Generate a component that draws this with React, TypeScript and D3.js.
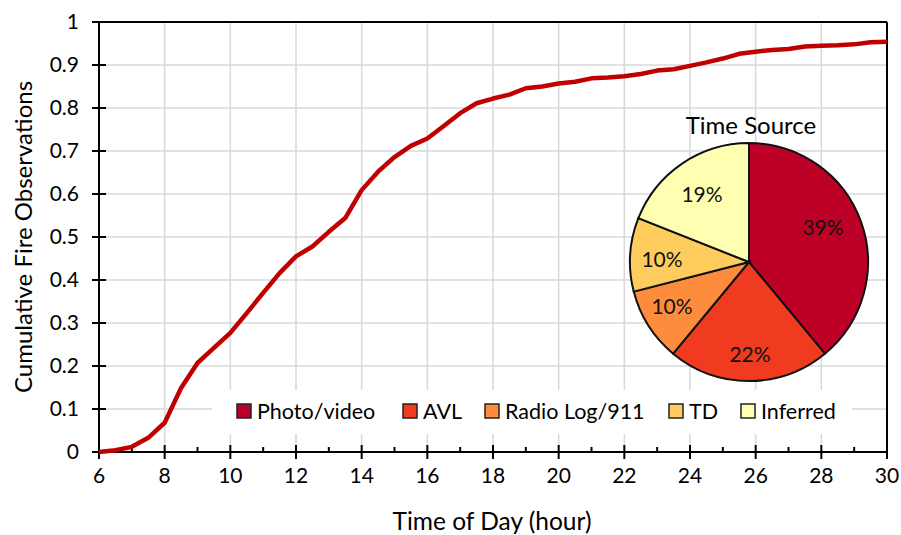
import React from "react";
import * as d3 from "d3";

const hours = [6,6.5,7,7.5,8,8.5,9,9.5,10,10.5,11,11.5,12,12.5,13,13.5,14,14.5,15,15.5,16,16.5,17,17.5,18,18.5,19,19.5,20,20.5,21,21.5,22,22.5,23,23.5,24,24.5,25,25.5,26,26.5,27,27.5,28,28.5,29,29.5,30];
const cumulative = [0,0.004,0.012,0.033,0.068,0.149,0.207,0.242,0.277,0.323,0.37,0.416,0.455,0.478,0.512,0.544,0.609,0.652,0.686,0.712,0.729,0.758,0.788,0.811,0.822,0.831,0.846,0.85,0.857,0.861,0.869,0.871,0.874,0.879,0.887,0.89,0.898,0.906,0.915,0.926,0.931,0.935,0.937,0.943,0.945,0.946,0.948,0.953,0.954];

const sources = ["Photo/video", "AVL", "Radio Log/911", "TD", "Inferred"];
const sharePct = [39, 22, 10, 10, 19];
const sourceColors = ["#bd0026", "#f03b20", "#fd8d3c", "#fecc5c", "#ffffb2"];

const xTicks = [6,8,10,12,14,16,18,20,22,24,26,28,30];
const minorXTicks = [7,9,11,13,15,17,19,21,23,25,27,29];
const yTicks = [0,0.1,0.2,0.3,0.4,0.5,0.6,0.7,0.8,0.9,1];

const FONT = "Lato, 'Open Sans', sans-serif";

export default function App() {
  const W = 901, H = 535;
  const left = 99, right = 887, top = 22, bottom = 452;
  const x = d3.scaleLinear().domain([6, 30]).range([left, right]);
  const y = d3.scaleLinear().domain([0, 1]).range([bottom, top]);
  const line = d3.line<number>().x((_, i) => x(hours[i])).y((d) => y(d));

  const cx = 749, cy = 262, r = 119;
  const pie = d3.pie<number>().sort(null).value((d) => d)(sharePct);
  const arc = d3.arc<d3.PieArcDatum<number>>().innerRadius(0).outerRadius(r);
  const labelPos = [
    [74, -34], [1, 93], [-77, 45], [-87, -2], [-47, -67],
  ];

  const legendX = [237, 403, 485, 669, 741];

  return (
    <svg width={W} height={H} style={{ position: "absolute", left: 0, top: 0, background: "#fff" }} fontFamily={FONT}>
      {/* grid */}
      {xTicks.map((t) => (
        <line key={"gx" + t} x1={x(t)} x2={x(t)} y1={top} y2={bottom} stroke="#d9d9d9" strokeWidth={1.5} />
      ))}
      {yTicks.map((t) => (
        <line key={"gy" + t} x1={left} x2={right} y1={y(t)} y2={y(t)} stroke="#d9d9d9" strokeWidth={1.5} />
      ))}
      {/* legend background */}
      <rect x={212} y={390} width={640} height={44} fill="#fff" />
      {/* frame */}
      <line x1={left} x2={right} y1={top} y2={top} stroke="#000" strokeWidth={2} />
      <line x1={right} x2={right} y1={top} y2={bottom} stroke="#000" strokeWidth={2} />
      <line x1={left} x2={left} y1={top} y2={bottom} stroke="#000" strokeWidth={2} />
      <line x1={left} x2={right} y1={bottom} y2={bottom} stroke="#000" strokeWidth={2} />
      {/* y ticks */}
      {yTicks.map((t) => (
        <g key={"yt" + t}>
          <line x1={left - 7} x2={left + 7} y1={y(t)} y2={y(t)} stroke="#000" strokeWidth={2} />
          <text x={left - 20} y={y(t)} dy="0.35em" textAnchor="end" fontSize={21}>{d3.format("~g")(t)}</text>
        </g>
      ))}
      {/* x ticks */}
      {xTicks.map((t) => (
        <g key={"xt" + t}>
          <line x1={x(t)} x2={x(t)} y1={bottom - 7} y2={bottom + 7} stroke="#000" strokeWidth={2} />
          <text x={x(t)} y={476} dy="0.35em" textAnchor="middle" fontSize={21}>{t}</text>
        </g>
      ))}
      {minorXTicks.map((t) => (
        <line key={"mx" + t} x1={x(t)} x2={x(t)} y1={bottom - 5} y2={bottom} stroke="#000" strokeWidth={2} />
      ))}
      {/* curve */}
      <path d={line(cumulative) || ""} fill="none" stroke="#c00000" strokeWidth={4.5} strokeLinejoin="round" />
      {/* axis titles */}
      <text x={492} y={521} dy="0.35em" textAnchor="middle" fontSize={24.5}>Time of Day (hour)</text>
      <text transform={`translate(24,${(top + bottom) / 2}) rotate(-90)`} textAnchor="middle" dy="0.35em" fontSize={24}>Cumulative Fire Observations</text>
      {/* pie */}
      <text x={751} y={126} dy="0.35em" textAnchor="middle" fontSize={24}>Time Source</text>
      <g transform={`translate(${cx},${cy})`}>
        {pie.map((p, i) => (
          <path key={"s" + i} d={arc(p) || ""} fill={sourceColors[i]} stroke="#111" strokeWidth={2} />
        ))}
        {pie.map((p, i) => (
          <text key={"l" + i} x={labelPos[i][0]} y={labelPos[i][1]} dy="0.35em" textAnchor="middle" fontSize={21} fill="#111">{sharePct[i]}%</text>
        ))}
      </g>
      {/* legend */}
      {sources.map((s, i) => (
        <g key={"lg" + i}>
          <rect x={legendX[i]} y={404} width={14} height={14} fill={sourceColors[i]} stroke="#222" strokeWidth={1.5} />
          <text x={legendX[i] + 20} y={411} dy="0.35em" fontSize={21.5}>{s}</text>
        </g>
      ))}
    </svg>
  );
}
